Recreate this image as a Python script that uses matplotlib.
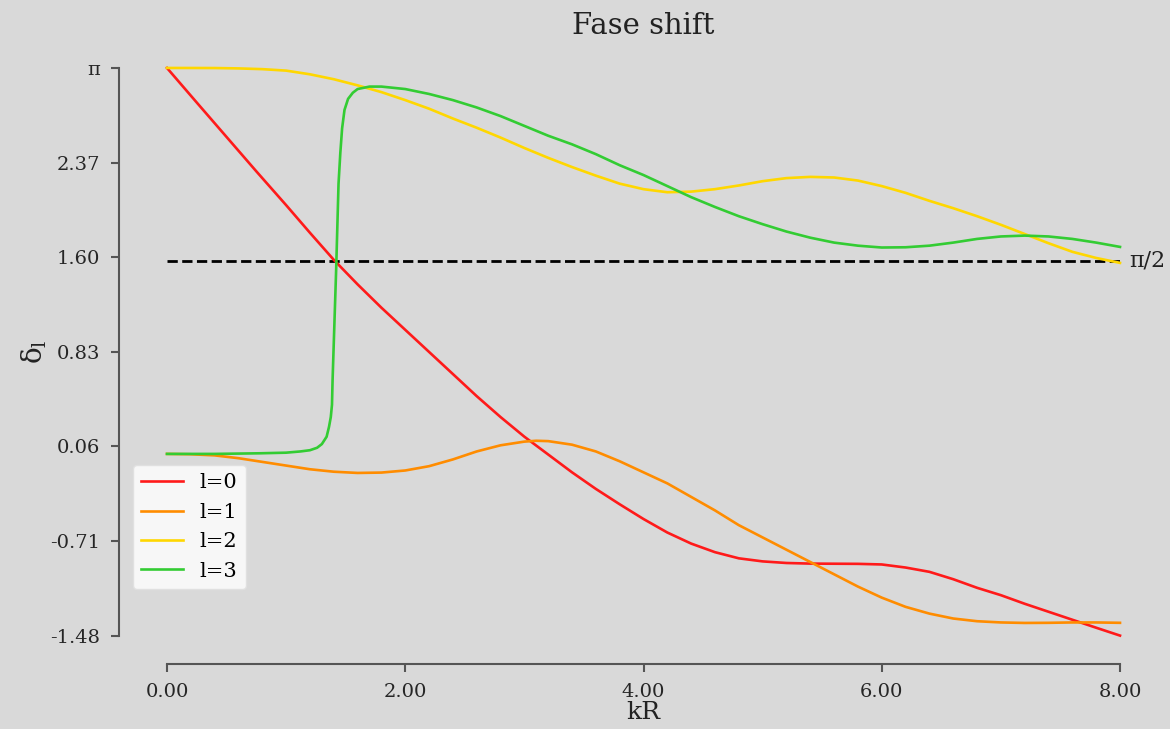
import numpy as np
import matplotlib
matplotlib.use("Agg")
import matplotlib.pyplot as plt

# ---- data ----
x_l0 = [0, 0.25, 0.5, 0.75, 1.0, 1.2, 1.4, 1.6, 1.8, 2.0, 2.2, 2.4, 2.6, 2.8, 3.0, 3.2, 3.4, 3.6, 3.8, 4.0,
        4.2, 4.4, 4.6, 4.8, 5.0, 5.2, 5.4, 5.6, 5.8, 6.0, 6.2, 6.4, 6.6, 6.8, 7.0, 7.2, 7.4, 7.6, 7.8, 8.0]
y_l0 = [3.1416, 2.86, 2.58, 2.30, 2.025, 1.80, 1.58, 1.38, 1.19, 1.01, 0.83, 0.65, 0.47, 0.30, 0.14, -0.005,
        -0.15, -0.285, -0.41, -0.53, -0.64, -0.73, -0.80, -0.85, -0.875, -0.888, -0.893, -0.894, -0.895, -0.90,
        -0.925, -0.96, -1.02, -1.09, -1.15, -1.22, -1.285, -1.35, -1.415, -1.479]

x_l1 = [0, 0.2, 0.4, 0.6, 0.8, 1.0, 1.2, 1.4, 1.6, 1.8, 2.0, 2.2, 2.4, 2.6, 2.8, 3.0, 3.1, 3.2, 3.4, 3.6,
        3.8, 4.0, 4.2, 4.4, 4.6, 4.8, 5.0, 5.2, 5.4, 5.6, 5.8, 6.0, 6.2, 6.4, 6.6, 6.8, 7.0, 7.2, 7.4, 7.6,
        7.8, 8.0]
y_l1 = [0.0, -0.003, -0.012, -0.035, -0.065, -0.095, -0.125, -0.145, -0.155, -0.152, -0.135, -0.10, -0.045,
        0.02, 0.07, 0.10, 0.107, 0.104, 0.075, 0.02, -0.06, -0.15, -0.24, -0.35, -0.46, -0.58, -0.68, -0.78,
        -0.88, -0.98, -1.08, -1.17, -1.245, -1.30, -1.34, -1.362, -1.372, -1.376, -1.375, -1.372, -1.372, -1.375]

x_l2 = [0, 0.2, 0.4, 0.6, 0.8, 1.0, 1.2, 1.4, 1.6, 1.8, 2.0, 2.2, 2.4, 2.6, 2.8, 3.0, 3.2, 3.4, 3.6, 3.8,
        4.0, 4.2, 4.4, 4.6, 4.8, 5.0, 5.2, 5.4, 5.6, 5.8, 6.0, 6.2, 6.4, 6.6, 6.8, 7.0, 7.2, 7.4, 7.6, 7.8, 8.0]
y_l2 = [3.1416, 3.1415, 3.141, 3.138, 3.132, 3.12, 3.09, 3.05, 3.0, 2.945, 2.88, 2.81, 2.73, 2.655, 2.575,
        2.49, 2.41, 2.335, 2.265, 2.20, 2.155, 2.13, 2.135, 2.155, 2.185, 2.22, 2.245, 2.255, 2.25, 2.225,
        2.18, 2.125, 2.06, 2.0, 1.935, 1.865, 1.79, 1.715, 1.645, 1.595, 1.555]

x_l3 = [0, 0.4, 0.78, 1.0, 1.12, 1.2, 1.26, 1.3, 1.34, 1.36, 1.375, 1.385, 1.39, 1.40, 1.41, 1.42, 1.43,
        1.44, 1.455, 1.47, 1.49, 1.52, 1.56, 1.6, 1.7, 1.8, 2.0, 2.2, 2.4, 2.6, 2.8, 3.0, 3.2, 3.4, 3.6, 3.8,
        4.0, 4.2, 4.4, 4.6, 4.8, 5.0, 5.2, 5.4, 5.6, 5.8, 6.0, 6.2, 6.4, 6.6, 6.8, 7.0, 7.2, 7.4, 7.6, 7.8, 8.0]
y_l3 = [0.0, 0.0, 0.005, 0.01, 0.02, 0.03, 0.05, 0.08, 0.14, 0.22, 0.30, 0.40, 0.60, 0.90, 1.20, 1.50,
        1.85, 2.2, 2.45, 2.65, 2.80, 2.89, 2.94, 2.97, 2.99, 2.99, 2.97, 2.93, 2.88, 2.82, 2.75, 2.67, 2.59,
        2.52, 2.44, 2.35, 2.27, 2.18, 2.09, 2.01, 1.935, 1.87, 1.81, 1.76, 1.72, 1.695, 1.68, 1.682, 1.695,
        1.72, 1.75, 1.77, 1.777, 1.77, 1.75, 1.72, 1.685]

labels = ["l=0", "l=1", "l=2", "l=3"]
colors = ["#ff1a1a", "#ff8c00", "#ffd700", "#33cc33"]
x_ticks = [0, 2, 4, 6, 8]

plt.rcParams['font.family'] = ['DejaVu Serif']
plt.rcParams['mathtext.fontset'] = 'dejavuserif'

bg = "#d9d9d9"
fig = plt.figure(figsize=(11.7, 7.29), dpi=100, facecolor=bg)
ax = fig.add_axes([0.102, 0.0892, 0.896, 0.8565])
ax.set_facecolor(bg)

series = [(x_l0, y_l0), (x_l1, y_l1), (x_l2, y_l2), (x_l3, y_l3)]
for (xs, ys), lab, c in zip(series, labels, colors):
    ax.plot(xs, ys, color=c, lw=1.9, label=lab, solid_joinstyle="round")

ax.plot([0, 8], [np.pi / 2, np.pi / 2], color="black", lw=2, ls="--", zorder=1)
ax.text(8.08, np.pi / 2, "π/2", fontsize=16, va="center", ha="left", color="#222222")

ymin = min(min(s[1]) for s in series)
yt = np.linspace(ymin, np.pi, 7)
ax.set_yticks(yt)
ax.set_yticklabels(["%.2f" % v for v in yt[:-1]] + ["π"])
ax.set_xticks(x_ticks)
ax.set_xticklabels(["%.2f" % v for v in x_ticks])
ax.margins(x=0.05, y=0.05)

for s in ["top", "right"]:
    ax.spines[s].set_visible(False)
for s in ["left", "bottom"]:
    ax.spines[s].set_color("#555555")
    ax.spines[s].set_linewidth(1.5)
ax.spines["left"].set_bounds(yt[0], yt[-1])
ax.spines["bottom"].set_bounds(0, 8)
ax.tick_params(colors="#555555", labelcolor="#262626", labelsize=14, width=1.5, length=6)
ax.tick_params(axis="y", pad=8)
ax.tick_params(axis="x", pad=8)

ax.set_title("Fase shift", fontsize=21, color="#222222", pad=2)
ax.set_xlabel("kR", fontsize=18, color="#222222", labelpad=0)
ax.set_ylabel("δ$_{\\mathrm{l}}$", fontsize=20, color="#222222", labelpad=1)

leg = ax.legend(loc="lower left", fontsize=15, frameon=True, borderaxespad=0,
                bbox_to_anchor=(0.013, 0.12))
leg.get_frame().set_facecolor("#f7f7f7")
leg.get_frame().set_edgecolor("#e0e0e0")
leg.get_frame().set_alpha(1.0)

fig.savefig("out.png", dpi=100, facecolor=bg)
